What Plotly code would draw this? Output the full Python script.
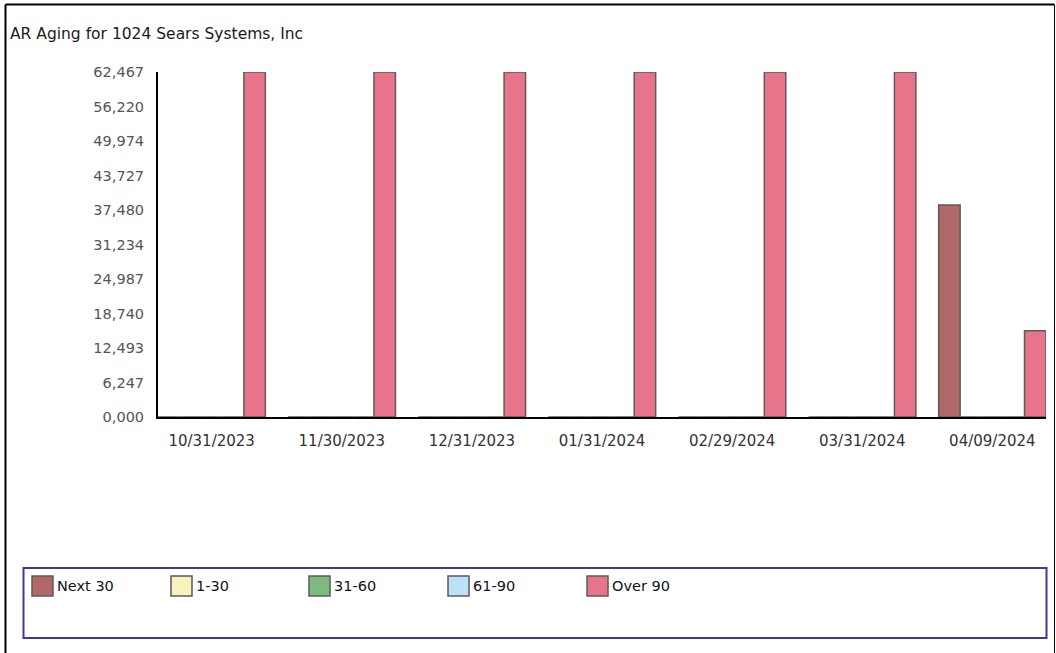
import plotly.graph_objects as go

# ---- data ----
dates = ["10/31/2023", "11/30/2023", "12/31/2023", "01/31/2024",
         "02/29/2024", "03/31/2024", "04/09/2024"]
series_names = ["Next 30", "1-30", "31-60", "61-90", "Over 90"]
next_30 = [0, 0, 0, 0, 0, 0, 38400]
days_1_30 = [0, 0, 0, 0, 0, 0, 0]
days_31_60 = [0, 0, 0, 0, 0, 0, 0]
days_61_90 = [0, 0, 0, 0, 0, 0, 0]
over_90 = [62467, 62467, 62467, 62467, 62467, 62467, 15600]
y_tick_labels = ["0,000", "6,247", "12,493", "18,740", "24,987", "31,234",
                 "37,480", "43,727", "49,974", "56,220", "62,467"]
title_text = "AR Aging for 1024 Sears Systems, Inc"

series_values = [next_30, days_1_30, days_31_60, days_61_90, over_90]
colors = ["#B06868", "#F7F2BE", "#7CBB7C", "#BEE1FA", "#E8748C"]

# ---- geometry (pixels) ----
W, H = 1056, 653
L, R, T, B = 158, 1046, 72, 417


def fx(p):
    return (p - L) / (R - L)


def fy(p):
    return (B - p) / (B - T)


FONT = "DejaVu Sans, Verdana, sans-serif"
y_tick_vals = [float(t.replace(",", "")) for t in y_tick_labels]

fig = go.Figure()
for name, vals, col in zip(series_names, series_values, colors):
    fig.add_trace(go.Bar(
        x=list(range(len(dates))), y=vals, name=name,
        marker=dict(color=col, line=dict(color="#5f5a5c", width=1.5)),
        showlegend=False,
    ))

n = len(dates)
gap = 0.175
fig.update_layout(
    width=W, height=H,
    margin=dict(l=L, r=W - R, t=T, b=H - B, pad=0),
    paper_bgcolor="white", plot_bgcolor="white",
    barmode="group", bargap=gap, bargroupgap=0,
    title=dict(text=title_text, xref="container", yref="container",
               x=10 / W, xanchor="left", y=1 - 34 / H, yanchor="middle",
               font=dict(family=FONT, size=15.5, color="#1a1a1a")),
    xaxis=dict(
        range=[-0.5 + gap / 2, n - 0.5 - gap / 2],
        tickmode="array", tickvals=list(range(n)), ticktext=dates,
        showgrid=False, zeroline=False, showline=True, linecolor="black",
        linewidth=2, ticks="", ticklabelstandoff=9,
        tickfont=dict(family=FONT, size=15, color="#333333"),
        fixedrange=True,
    ),
    yaxis=dict(
        range=[0, y_tick_vals[-1]],
        tickmode="array", tickvals=y_tick_vals, ticktext=y_tick_labels,
        showgrid=False, zeroline=False, showline=True, linecolor="black",
        linewidth=2, ticks="", ticklabelstandoff=9,
        tickfont=dict(family=FONT, size=14.5, color="#555555"),
        fixedrange=True,
    ),
    showlegend=False,
)

shapes = []
# outer frame
shapes.append(dict(type="line", xref="paper", yref="paper",
                   x0=fx(5.5), x1=fx(1054.5), y0=fy(4.5), y1=fy(4.5),
                   line=dict(color="black", width=2)))
shapes.append(dict(type="line", xref="paper", yref="paper",
                   x0=fx(5.5), x1=fx(5.5), y0=fy(4.5), y1=fy(660),
                   line=dict(color="black", width=2)))
shapes.append(dict(type="line", xref="paper", yref="paper",
                   x0=fx(1054.5), x1=fx(1054.5), y0=fy(4.5), y1=fy(660),
                   line=dict(color="black", width=1)))
# legend box
shapes.append(dict(type="rect", xref="paper", yref="paper",
                   x0=fx(23.5), x1=fx(1046.5), y0=fy(568), y1=fy(638),
                   line=dict(color="#3a3a98", width=2), fillcolor="rgba(0,0,0,0)"))

annotations = []
item_left = [32, 171, 309, 448, 587]
for xl, name, col in zip(item_left, series_names, colors):
    shapes.append(dict(type="rect", xref="paper", yref="paper",
                       x0=fx(xl), x1=fx(xl + 21), y0=fy(576), y1=fy(596),
                       line=dict(color="#5f5a5c", width=1.5), fillcolor=col))
    annotations.append(dict(xref="paper", yref="paper", x=fx(xl + 23), y=fy(586),
                            xanchor="left", yanchor="middle", text=name,
                            showarrow=False,
                            font=dict(family=FONT, size=14.5, color="#111122")))

fig.update_layout(shapes=shapes, annotations=annotations)
fig.write_html(
    "out.html",
    config={"displayModeBar": False},
    post_script="document.body.style.margin='0';document.body.style.overflow='hidden';",
)
